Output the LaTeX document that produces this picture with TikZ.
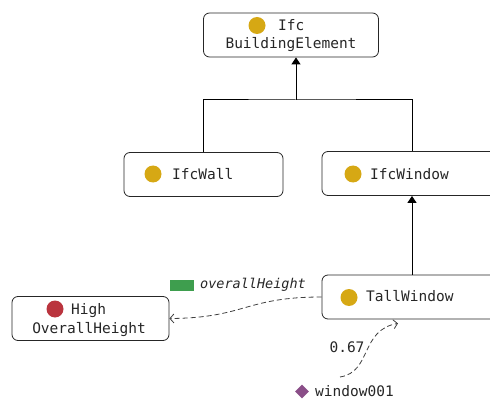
\documentclass[tikz,border=0pt]{standalone}
\usepackage{tikz}
\usepackage{xcolor}
\usepackage{fontspec}
\setmonofont{DejaVu Sans Mono}
\usetikzlibrary{arrows.meta,shapes.geometric}

\definecolor{classgold}{RGB}{214,168,20}
\definecolor{valred}{RGB}{186,52,62}
\definecolor{propgreen}{RGB}{62,158,78}
\definecolor{indpurple}{RGB}{138,78,136}

\begin{document}
\begin{tikzpicture}[x=1pt,y=-1pt,
  every node/.style={font=\ttfamily\fontsize{14.5}{17}\selectfont, text=black!85},
  cls/.style={draw=black!85, rounded corners=6pt, line width=0.8pt, inner sep=0pt, minimum height=44pt},
  lbl/.style={inner sep=0pt, anchor=base west},
  clbl/.style={inner sep=0pt, anchor=base},
  dot/.style={circle, inner sep=0pt, minimum size=17pt, fill=#1},
  isa/.style={line width=1pt, -{Triangle[length=7pt,width=9pt]}},
  link/.style={draw=black!75, line width=0.8pt, dash pattern=on 5pt off 3pt,
    -{Straight Barb[length=4pt,width=9pt]}}]
%\draw[help lines] (0,0) grid[step=50] (490,401);
\useasboundingbox (0,0) rectangle (490,401);
\clip (0,0) rectangle (490,401);

% classes
\node[cls, minimum width=175pt] (ifcbe) at (291,35) {};
\node[dot=classgold] (ifcbe-dot) at (257,25.5) {};
\node[lbl] (ifcbe-t1) at (278,31) {Ifc};
\node[clbl] (ifcbe-t2) at (291,49) {BuildingElement};

\node[cls, minimum width=159pt] (ifcwall) at (203.5,174.5) {};
\node[dot=classgold] (ifcwall-dot) at (153,174) {};
\node[lbl] (ifcwall-t) at (172,179) {IfcWall};

\node[cls, minimum width=180pt] (ifcwin) at (412,173.5) {};
\node[dot=classgold] (ifcwin-dot) at (353,174) {};
\node[lbl] (ifcwin-t) at (370,179) {IfcWindow};

\node[cls, minimum width=180pt] (tallwin) at (412,297) {};
\node[dot=classgold] (tallwin-dot) at (349,297.5) {};
\node[lbl] (tallwin-t) at (366,301.5) {TallWindow};

% value
\node[cls, minimum width=157pt] (high) at (90.5,318.5) {};
\node[dot=valred] (high-dot) at (55,309) {};
\node[lbl] (high-t1) at (71,314) {High};
\node[clbl] (high-t2) at (89,333) {OverallHeight};

% individual
\node[diamond, inner sep=0pt, minimum size=14pt, fill=indpurple] (w001-dot) at (302,391.5) {};
\node[lbl] (w001) at (315,396.5) {window001};
\coordinate (w001-top) at (340,377);

% subclass tree
\coordinate (join) at (296,100);
\draw[line width=1pt] (ifcwall.north) |- (join) -| (ifcwin.north);
\draw[isa] (join) -- (join |- ifcbe.south);
\draw[isa] (tallwin.north) -- (ifcwin.south);

% property
\draw[link] (tallwin.west) .. controls (245,297) and (245,318) .. (high.east);
\node[fill=propgreen, inner sep=0pt, minimum width=24pt, minimum height=11pt] (prop-key) at (182,285.5) {};
\node[lbl, font=\ttfamily\itshape\fontsize{13.5}{16}\selectfont] (prop-t) at (200,288.5) {overallHeight};

% membership
\draw[link] (w001-top) .. controls (372,372) and (360,330) .. ([shift={(-14,4)}]tallwin.south);
\node[clbl] (w001-deg) at (347,352.5) {0.67};
\end{tikzpicture}
\end{document}
